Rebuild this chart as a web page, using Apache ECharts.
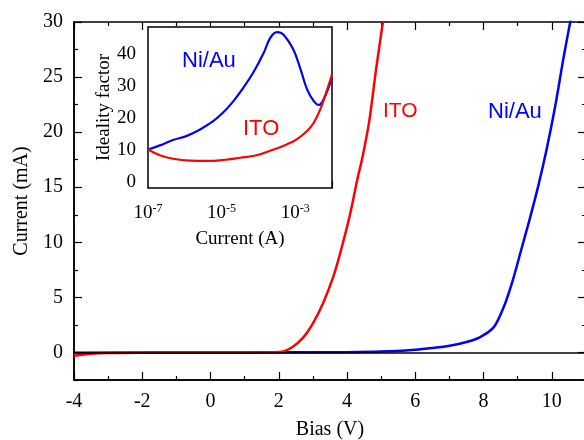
<!DOCTYPE html>
<html>
<head>
<meta charset="utf-8">
<script src="https://cdn.jsdelivr.net/npm/echarts@6/dist/echarts.min.js"></script>
<style>html,body{margin:0;padding:0;background:#fff}#c{width:584px;height:440px}</style>
</head>
<body>
<div id="c"></div>
<script>
// Main plot: Bias (V) vs Current (mA)
var itoBias    = [-4, -3.5, -3, -2, 0, 1, 1.5, 1.8, 2.1, 2.4, 2.7, 3.0, 3.3, 3.6, 3.85, 4.1, 4.3, 4.45, 4.65, 4.85, 5.05];
var itoCurrent = [-0.3, -0.12, -0.05, -0.02, 0, 0, 0, 0.02, 0.07, 0.5, 1.3, 2.65, 4.5, 6.9, 9.6, 12.7, 15.7, 17.7, 21, 25.7, 30];
var niBias     = [-4, 0, 2, 4, 5, 6, 6.5, 7, 7.5, 7.9, 8.3, 8.6, 8.85, 9.1, 9.35, 9.6, 9.85, 10.1, 10.35, 10.55];
var niCurrent  = [-0.03, 0, 0.01, 0.03, 0.08, 0.25, 0.4, 0.6, 0.95, 1.4, 2.3, 4.2, 6.5, 9.3, 12.1, 15.1, 18.5, 22.4, 26.9, 30.2];

// Inset: Current (A) vs Ideality factor
var niInsetCurrent = [1.0e-7, 2.1e-7, 4.8e-7, 1.1e-6, 2.6e-6, 5.9e-6, 1.1e-5, 2.1e-5, 3.9e-5, 7.2e-5, 1.4e-4, 2.1e-4, 3.2e-4, 4.8e-4, 8.9e-4, 1.4e-3, 2.1e-3, 3.2e-3, 4.4e-3, 5.9e-3, 1.0e-2];
var niInsetIdeal   = [10.1, 11.4, 13.1, 14.3, 16.4, 19.0, 21.7, 25.3, 29.5, 34.2, 40.5, 45.2, 47.0, 46.2, 41.5, 35.3, 29.0, 25.3, 24.1, 25.8, 32.6];
var itoInsetCurrent = [1.0e-7, 2.1e-7, 4.8e-7, 1.4e-6, 3.9e-6, 1.1e-5, 3.2e-5, 8.9e-5, 2.6e-4, 5.9e-4, 1.1e-3, 2.1e-3, 3.2e-3, 4.8e-3, 7.2e-3, 1.0e-2];
var itoInsetIdeal   = [10.1, 8.3, 7.2, 6.6, 6.5, 6.8, 7.5, 8.3, 10.1, 11.7, 13.3, 15.9, 18.5, 22.7, 28.5, 33.7];

// Tick labels
var biasTicks = [-4, -2, 0, 2, 4, 6, 8, 10];
var biasMinor = [-3, -1, 1, 3, 5, 7, 9, 11];
var currentTicks = [0, 5, 10, 15, 20, 25, 30];
var currentMinor = [-2.5, 2.5, 7.5, 12.5, 17.5, 22.5, 27.5];
var insetXLabels = [1e-7, 1e-5, 1e-3];
var insetXMajor = [1e-7, 1e-6, 1e-5, 1e-4, 1e-3, 1e-2];
var insetYLabels = [0, 10, 20, 30, 40];
var insetYTicks = [0, 5, 10, 15, 20, 25, 30, 35, 40, 45];

var insetXMinor = [];
for (var e = -7; e <= -3; e++) {
  for (var k = 2; k <= 9; k++) insetXMinor.push(k * Math.pow(10, e));
}

function zip(a, b) { return a.map(function (v, i) { return [v, b[i]]; }); }

var SERIF = 'Liberation Serif';
var SANS = 'Liberation Sans';
var BLK = '#000';

function tickAxis(opts) {
  var base = {
    splitLine: { show: false },
    axisLine: { show: false, onZero: false },
    axisLabel: { show: false }
  };
  for (var k in opts) base[k] = opts[k];
  return base;
}
function ticks(vals, len, w) {
  return { show: true, inside: true, length: len, customValues: vals, lineStyle: { color: BLK, width: w || 1.2 } };
}

var chart = echarts.init(document.getElementById('c'), null, { renderer: 'canvas' });
chart.setOption({
  animation: false,
  backgroundColor: '#fff',
  grid: [
    { left: 74, top: 22, right: -2, bottom: 60, containLabel: false, outerBoundsMode: 'none',
      show: true, borderColor: BLK, borderWidth: 1.5, backgroundColor: 'transparent' },
    { left: 148, top: 27, width: 184, height: 161, containLabel: false, outerBoundsMode: 'none',
      show: true, borderColor: BLK, borderWidth: 1.5, backgroundColor: '#fff', z: 5 }
  ],
  xAxis: [
    { gridIndex: 0, type: 'value', min: -4, max: 11, position: 'bottom',
      axisLine: { show: true, onZero: false, lineStyle: { color: BLK, width: 1.5 } }, splitLine: { show: false },
      axisTick: ticks(biasTicks, 8),
      axisLabel: { customValues: biasTicks, fontFamily: SERIF, fontSize: 20, color: BLK, margin: 12 },
      name: 'Bias (V)', nameLocation: 'middle', nameGap: 40,
      nameTextStyle: { fontFamily: SERIF, fontSize: 20, color: BLK } },
    tickAxis({ gridIndex: 0, type: 'value', min: -4, max: 11, position: 'bottom', axisTick: ticks(biasMinor, 4) }),
    tickAxis({ gridIndex: 0, type: 'value', min: -4, max: 11, position: 'top', axisTick: ticks(biasTicks, 8) }),
    tickAxis({ gridIndex: 0, type: 'value', min: -4, max: 11, position: 'top', axisTick: ticks(biasMinor, 4) }),
    { gridIndex: 1, type: 'log', logBase: 10, min: 1e-7, max: 1e-2, position: 'bottom',
      axisLine: { show: false, onZero: false }, splitLine: { show: false },
      axisTick: ticks(insetXMajor, 7),
      axisLabel: { customValues: insetXLabels, margin: 15, color: BLK,
        formatter: function (v) {
          var ex = Math.round(Math.log(v) / Math.LN10);
          return '{b|10}{s|' + (ex < 0 ? '-' + (-ex) : ex) + '}';
        },
        rich: {
          b: { fontFamily: SERIF, fontSize: 19, color: BLK },
          s: { fontFamily: SERIF, fontSize: 12, color: BLK, verticalAlign: 'bottom', padding: [0, 0, 9, 0] }
        } },
      name: 'Current (A)', nameLocation: 'middle', nameGap: 42,
      nameTextStyle: { fontFamily: SERIF, fontSize: 19, color: BLK } },
    tickAxis({ gridIndex: 1, type: 'log', logBase: 10, min: 1e-7, max: 1e-2, position: 'bottom', axisTick: ticks(insetXMinor, 3.5, 1) })
  ],
  yAxis: [
    { gridIndex: 0, type: 'value', min: -2.5, max: 30, position: 'left',
      axisLine: { show: true, onZero: false, lineStyle: { color: BLK, width: 1.5 } }, splitLine: { show: false },
      axisTick: ticks(currentTicks, 8),
      axisLabel: { customValues: currentTicks, fontFamily: SERIF, fontSize: 20, color: BLK, margin: 11 },
      name: 'Current (mA)', nameLocation: 'middle', nameGap: 39,
      nameTextStyle: { fontFamily: SERIF, fontSize: 20, color: BLK } },
    tickAxis({ gridIndex: 0, type: 'value', min: -2.5, max: 30, position: 'left', axisTick: ticks(currentMinor, 4) }),
    tickAxis({ gridIndex: 0, type: 'value', min: -2.5, max: 30, position: 'right', axisTick: ticks(currentTicks, 8) }),
    tickAxis({ gridIndex: 0, type: 'value', min: -2.5, max: 30, position: 'right', axisTick: ticks(currentMinor, 4) }),
    { gridIndex: 1, type: 'value', min: -2, max: 48.6, position: 'left',
      axisLine: { show: false, onZero: false }, splitLine: { show: false },
      axisTick: ticks(insetYTicks, 5),
      axisLabel: { customValues: insetYLabels, fontFamily: SERIF, fontSize: 19, color: BLK, margin: 12 },
      name: 'Ideality factor', nameLocation: 'middle', nameGap: 32,
      nameTextStyle: { fontFamily: SERIF, fontSize: 19, color: BLK } }
  ],
  series: [
    { type: 'line', xAxisIndex: 0, yAxisIndex: 0, data: [], silent: true, z: 1,
      markLine: { silent: true, symbol: 'none', label: { show: false },
        lineStyle: { color: BLK, width: 1.5, type: 'solid' }, data: [{ yAxis: 0 }] } },
    { type: 'line', xAxisIndex: 0, yAxisIndex: 0, data: zip(niBias, niCurrent),
      smooth: 0.3, showSymbol: false, lineStyle: { color: '#0000ff', width: 2.5 }, z: 3 },
    { type: 'line', xAxisIndex: 0, yAxisIndex: 0, data: zip(itoBias, itoCurrent),
      smooth: 0.3, showSymbol: false, lineStyle: { color: '#ff0000', width: 2.5 }, z: 4 },
    { type: 'line', xAxisIndex: 4, yAxisIndex: 4, data: zip(niInsetCurrent, niInsetIdeal),
      smooth: 0.4, showSymbol: false, lineStyle: { color: '#0000ff', width: 2.2 }, z: 6 },
    { type: 'line', xAxisIndex: 4, yAxisIndex: 4, data: zip(itoInsetCurrent, itoInsetIdeal),
      smooth: 0.4, showSymbol: false, lineStyle: { color: '#ff0000', width: 2.2 }, z: 7 }
  ],
  graphic: [
    { type: 'text', left: 383, top: 101, z: 10, style: { text: 'ITO', fontFamily: SANS, fontSize: 21, fill: '#ff0000' } },
    { type: 'text', left: 488, top: 101, z: 10, style: { text: 'Ni/Au', fontFamily: SANS, fontSize: 22, fill: '#0000ff' } },
    { type: 'text', left: 182, top: 50, z: 10, style: { text: 'Ni/Au', fontFamily: SANS, fontSize: 22, fill: '#0000ff' } },
    { type: 'text', left: 243, top: 118, z: 10, style: { text: 'ITO', fontFamily: SANS, fontSize: 22, fill: '#ff0000' } }
  ]
});
</script>
</body>
</html>
